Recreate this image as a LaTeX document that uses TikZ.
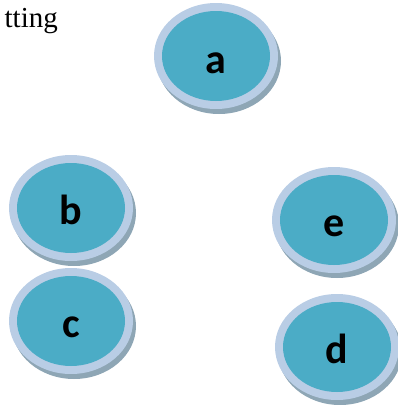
\documentclass[tikz,border=0pt]{standalone}
\usepackage{fontspec}
\setmainfont{Liberation Serif}
\newfontfamily\bubblefont{Carlito}
\usetikzlibrary{shapes.geometric}
\definecolor{tealfill}{HTML}{4BACC6}
\definecolor{ringblue}{HTML}{B9CDE5}
\definecolor{shadowgrey}{HTML}{8EA6B5}
\tikzset{
  x=1pt,y=1pt,
  bubbletext/.style={anchor=base, inner sep=0pt,
    font=\bubblefont\bfseries\fontsize{42}{42}\selectfont, text=black}
}
\begin{document}
\begin{tikzpicture}
\useasboundingbox (0,0) rectangle (398,-405);
\node[anchor=base east, inner sep=0pt, font=\fontsize{29}{29}\selectfont] (title) at (58,-27) {tting};
\foreach \n/\x/\y/\b in {a/216/56/73, b/71/208/224, c/71/321/337, e/334/220/236, d/337/347/363}{
  \fill[shadowgrey] (\x+3,-\y-5) ellipse (62 and 53);
  \fill[ringblue] (\x,-\y) ellipse (62 and 53);
  \fill[tealfill] (\x,-\y) ellipse (54 and 45);
  \node[bubbletext] (\n) at (\x,-\b) {\n};
}
\end{tikzpicture}
\end{document}
